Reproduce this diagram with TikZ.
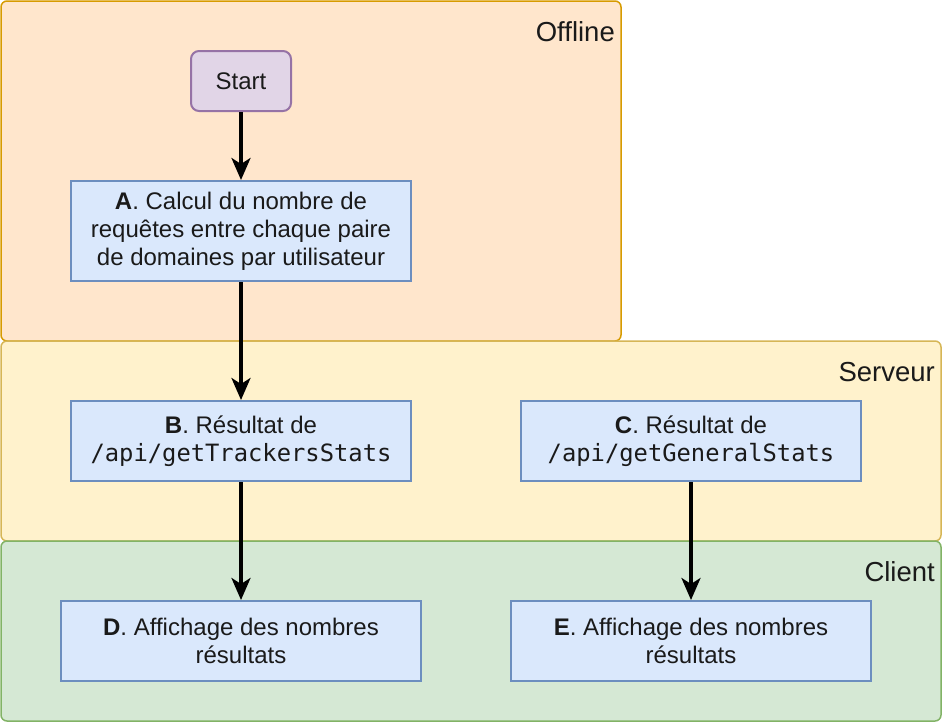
\documentclass[tikz,border=0pt]{standalone}
\usepackage{fontspec}
\setmainfont{Liberation Sans}
\newfontfamily\codefont{DejaVu Sans Mono}
\usetikzlibrary{arrows.meta}
\definecolor{offfill}{HTML}{FFE6CC}
\definecolor{offdraw}{HTML}{D79B00}
\definecolor{srvfill}{HTML}{FFF2CC}
\definecolor{srvdraw}{HTML}{D6B656}
\definecolor{clifill}{HTML}{D5E8D4}
\definecolor{clidraw}{HTML}{82B366}
\definecolor{stfill}{HTML}{E1D5E7}
\definecolor{stdraw}{HTML}{9673A6}
\definecolor{bxfill}{HTML}{DAE8FC}
\definecolor{bxdraw}{HTML}{6C8EBF}
\definecolor{txt}{HTML}{1A1A1A}
\tikzset{
  lane/.style={rounded corners=6pt, line width=1.5pt},
  lanelabel/.style={anchor=base east, font=\fontsize{27.5}{32}\selectfont, text=txt, inner sep=0pt},
  procbox/.style={draw=bxdraw, fill=bxfill, line width=2pt, font=\fontsize{24}{28}\selectfont, text=txt, align=center},
  flow/.style={line width=3.5pt, -{Stealth[length=22pt, width=19pt, inset=6pt]}}
}
\newcommand{\cd}[1]{{\codefont\fontsize{23.8}{28}\selectfont #1}}
\begin{document}
\begin{tikzpicture}[x=1pt, y=-1pt]
\useasboundingbox (0,0) rectangle (942,724);
% lanes
\filldraw[lane, fill=offfill, draw=offdraw] (1,1) rectangle (621,341);
\filldraw[lane, fill=srvfill, draw=srvdraw] (1,341) rectangle (941,541);
\filldraw[lane, fill=clifill, draw=clidraw] (1,541) rectangle (941,721);
\node[lanelabel] (loff) at (615,41) {Offline};
\node[lanelabel] (lsrv) at (935,381) {Serveur};
\node[lanelabel] (lcli) at (935,581) {Client};
% nodes
\node[draw=stdraw, fill=stfill, line width=2pt, rounded corners=8pt, minimum width=100pt, minimum height=60pt, inner sep=0pt, font=\fontsize{24}{28}\selectfont, text=txt] (start) at (241,81) {Start};
\node[procbox, minimum width=340pt, minimum height=100pt, inner sep=0pt] (A) at (241,231)
  {\textbf{A}. Calcul du nombre de\\requêtes entre chaque paire\\de domaines par utilisateur};
\node[procbox, minimum width=340pt, minimum height=80pt, inner sep=0pt] (B) at (241,441)
  {\textbf{B}. Résultat de\\\cd{/api/getTrackersStats}};
\node[procbox, minimum width=340pt, minimum height=80pt, inner sep=0pt] (C) at (691,441)
  {\textbf{C}. Résultat de\\\cd{/api/getGeneralStats}};
\node[procbox, minimum width=360pt, minimum height=80pt, inner sep=0pt] (D) at (241,641)
  {\textbf{D}. Affichage des nombres\\résultats};
\node[procbox, minimum width=360pt, minimum height=80pt, inner sep=0pt] (E) at (691,641)
  {\textbf{E}. Affichage des nombres\\résultats};
% connectors
\draw[flow] (start) -- (A);
\draw[flow] (A) -- (B);
\draw[flow] (B) -- (D);
\draw[flow] (C) -- (E);
\end{tikzpicture}
\end{document}
